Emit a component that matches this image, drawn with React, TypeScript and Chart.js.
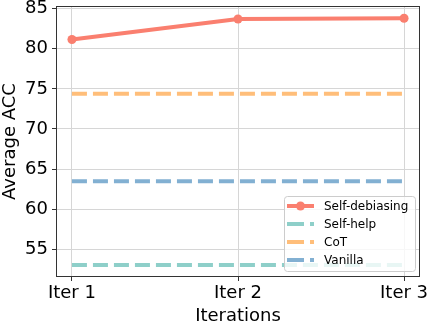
import React, { useEffect, useRef } from "react";
import { Chart, registerables } from "chart.js";

Chart.register(...registerables);

const categories = ["Iter 1", "Iter 2", "Iter 3"];
const selfDebiasing = [81.15, 83.7, 83.8];
const selfHelp = [53.05, 53.05, 53.05];
const cot = [74.4, 74.4, 74.4];
const vanilla = [63.5, 63.5, 63.5];
const yTicks = [55, 60, 65, 70, 75, 80, 85];

const legendItems = [
  { label: "Self-debiasing", color: "#FA7F6F", dashed: false },
  { label: "Self-help", color: "#8ECFC9", dashed: true },
  { label: "CoT", color: "#FFBE7A", dashed: true },
  { label: "Vanilla", color: "#82B0D2", dashed: true },
];

const FONT = "'DejaVu Sans', sans-serif";

const framePlugin = {
  id: "frame",
  afterDatasetsDraw(chart: any) {
    const { ctx, chartArea: a } = chart;
    ctx.save();
    ctx.strokeStyle = "#333333";
    ctx.lineWidth = 1;
    ctx.strokeRect(a.left + 0.5, a.top + 0.5, a.right - a.left - 1, a.bottom - a.top - 1);
    ctx.restore();
  },
  afterDraw(chart: any) {
    const { ctx, chartArea: a } = chart;
    const w = 131, rowH = 18, h = 75;
    const x0 = a.right - 5 - w;
    const y0 = a.bottom - 6 - h;
    ctx.save();
    ctx.globalAlpha = 0.8;
    ctx.fillStyle = "#ffffff";
    ctx.strokeStyle = "#cccccc";
    ctx.lineWidth = 1;
    ctx.beginPath();
    (ctx as any).roundRect(x0 + 0.5, y0 + 0.5, w, h, 3);
    ctx.fill();
    ctx.globalAlpha = 1;
    ctx.stroke();
    legendItems.forEach((it, i) => {
      const cy = y0 + 10 + rowH * i;
      const lx = x0 + 3;
      ctx.strokeStyle = it.color;
      ctx.lineWidth = 4;
      ctx.lineCap = "butt";
      ctx.setLineDash(it.dashed ? [17, 6] : []);
      ctx.beginPath();
      ctx.moveTo(lx, cy);
      ctx.lineTo(lx + 27, cy);
      ctx.stroke();
      ctx.setLineDash([]);
      if (!it.dashed) {
        ctx.fillStyle = it.color;
        ctx.beginPath();
        ctx.arc(lx + 13.5, cy, 4.5, 0, Math.PI * 2);
        ctx.fill();
      }
      ctx.fillStyle = "#000000";
      ctx.font = `12px ${FONT}`;
      ctx.textBaseline = "middle";
      ctx.textAlign = "left";
      ctx.fillText(it.label, lx + 37, cy + 1);
    });
    ctx.restore();
  },
};

function pts(arr: number[]) {
  return arr.map((y, i) => ({ x: i, y }));
}

export default function App() {
  const ref = useRef<HTMLCanvasElement>(null);
  useEffect(() => {
    const dashed = (label: string, color: string, data: number[]) => ({
      label,
      data: pts(data),
      borderColor: color,
      backgroundColor: color,
      borderWidth: 4,
      borderDash: [15, 6],
      borderCapStyle: "butt",
      pointRadius: 0,
      fill: false,
    });
    const chart = new Chart(ref.current!, {
      type: "line",
      data: {
        datasets: [
          {
            label: "Self-debiasing",
            data: pts(selfDebiasing),
            borderColor: "#FA7F6F",
            backgroundColor: "#FA7F6F",
            borderWidth: 4,
            pointRadius: 4.5,
            pointHoverRadius: 4.5,
            pointBorderWidth: 0,
            fill: false,
          },
          dashed("Self-help", "#8ECFC9", selfHelp),
          dashed("CoT", "#FFBE7A", cot),
          dashed("Vanilla", "#82B0D2", vanilla),
        ] as any,
      },
      plugins: [framePlugin],
      options: {
        animation: false,
        responsive: false,
        events: [],
        layout: { padding: { top: 6, right: 12, left: 0, bottom: 0 } },
        plugins: { legend: { display: false }, tooltip: { enabled: false } },
        scales: {
          x: {
            type: "linear",
            min: -0.096,
            max: 2.096,
            afterBuildTicks: (s: any) => {
              s.ticks = categories.map((_, i) => ({ value: i }));
            },
            afterFit: (s: any) => {
              s.height = 50;
              s.paddingLeft = 0;
              s.paddingRight = 0;
            },
            ticks: {
              callback: (v: any) => categories[v] ?? "",
              color: "#000",
              font: { family: FONT, size: 18 },
              padding: 2,
              maxRotation: 0,
            },
            grid: { color: "#d6d6d6", lineWidth: 1, tickLength: 4, tickColor: "#333" },
            border: { display: false },
            title: {
              display: true,
              text: "Iterations",
              color: "#000",
              font: { family: FONT, size: 18 },
              padding: { top: 0, bottom: 0 },
            },
          },
          y: {
            type: "linear",
            min: 51.56,
            max: 85.32,
            afterBuildTicks: (s: any) => {
              s.ticks = yTicks.map((v) => ({ value: v }));
            },
            afterFit: (s: any) => {
              s.width = 56;
              s.paddingTop = 0;
              s.paddingBottom = 0;
            },
            ticks: {
              color: "#000",
              font: { family: FONT, size: 18 },
              padding: 4,
            },
            grid: { color: "#d6d6d6", lineWidth: 1, tickLength: 4, tickColor: "#333" },
            border: { display: false },
            title: {
              display: true,
              text: "Average ACC",
              color: "#000",
              font: { family: FONT, size: 18 },
              padding: { top: 0, bottom: 0 },
            },
          },
        },
      } as any,
    });
    return () => chart.destroy();
  }, []);
  return (
    <div style={{ position: "fixed", left: 0, top: 0, width: 432, height: 327, background: "#fff" }}>
      <canvas ref={ref} width={432} height={327} style={{ width: 432, height: 327 }} />
    </div>
  );
}
